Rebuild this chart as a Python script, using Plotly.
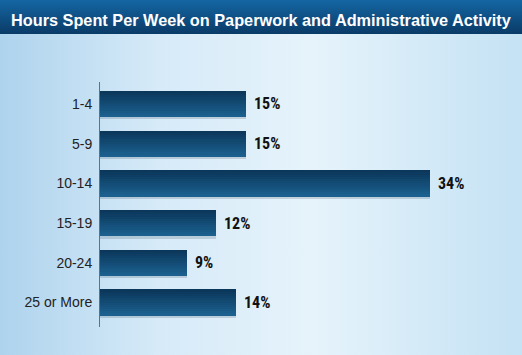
import base64
import plotly.graph_objects as go

# ---- data ----
categories = ["1-4", "5-9", "10-14", "15-19", "20-24", "25 or More"]
percent_values = [15, 15, 34, 12, 9, 14]
value_labels = ["15%", "15%", "34%", "12%", "9%", "14%"]
chart_title = "Hours Spent Per Week on Paperwork and Administrative Activity"

W, H = 522, 355
ML, MR, MT, MB = 100, 22, 82, 28

# ---- background (gradient panel + title bar) as SVG ----
svg = f'''<svg xmlns="http://www.w3.org/2000/svg" width="{W}" height="{H}" viewBox="0 0 {W} {H}" preserveAspectRatio="none">
<defs>
<linearGradient id="bg" x1="0" y1="0" x2="1" y2="0">
<stop offset="0" stop-color="#aed3ed"/>
<stop offset="0.3" stop-color="#d6eaf8"/>
<stop offset="0.6" stop-color="#e6f3fb"/>
<stop offset="1" stop-color="#c4e2f4"/>
</linearGradient>
<linearGradient id="tb" x1="0" y1="0" x2="0" y2="1">
<stop offset="0" stop-color="#1466a3"/>
<stop offset="1" stop-color="#0a3b67"/>
</linearGradient>
</defs>
<rect x="0" y="0" width="{W}" height="{H}" fill="url(#bg)"/>
<rect x="0" y="0" width="{W}" height="34" fill="url(#tb)"/>
</svg>'''
svg_uri = "data:image/svg+xml;base64," + base64.b64encode(svg.encode()).decode()

pw = W - ML - MR
ph = H - MT - MB

fig = go.Figure()

# ---- bars with vertical gradient (layered strips) ----
bar_w = 0.66
n_strips = 12
top_rgb = (11, 55, 90)
bot_rgb = (27, 96, 143)
step = bar_w / n_strips

# subtle shadow
fig.add_trace(go.Bar(
    y=categories, x=percent_values, orientation="h",
    width=bar_w, offset=-bar_w / 2 + 0.06,
    marker=dict(color="rgba(40,60,80,0.18)", line=dict(width=0)),
    hoverinfo="skip", showlegend=False,
))
for i in range(n_strips):
    t = i / (n_strips - 1)
    c = tuple(round(top_rgb[k] + (bot_rgb[k] - top_rgb[k]) * t) for k in range(3))
    off = -bar_w / 2 + i * step
    fig.add_trace(go.Bar(
        y=categories, x=percent_values, orientation="h",
        width=bar_w - i * step, offset=off,
        marker=dict(color=f"rgb{c}", line=dict(width=0)),
        hoverinfo="skip", showlegend=False,
    ))

# ---- value labels ----
for cat, v, lab in zip(categories, percent_values, value_labels):
    fig.add_annotation(
        x=v, y=cat, text=lab, xanchor="left", yanchor="middle",
        xshift=6, showarrow=False,
        font=dict(family="Liberation Sans Narrow, Arial Narrow, Roboto Condensed, sans-serif",
                  size=16, color="#111111", weight="bold"),
    )

# ---- title ----
fig.add_annotation(
    xref="paper", yref="paper",
    x=(W / 2 - ML) / pw, y=1 + (MT - 19.5) / ph,
    text=f"<b>{chart_title}</b>", showarrow=False,
    xanchor="center", yanchor="middle",
    font=dict(family="Liberation Sans, Arial, sans-serif", size=16.3, color="white"),
)

fig.update_layout(
    width=W, height=H,
    margin=dict(l=ML, r=MR, t=MT, b=MB, pad=0),
    paper_bgcolor="#dbeef9", plot_bgcolor="rgba(0,0,0,0)",
    barmode="overlay", bargap=0,
    images=[dict(source=svg_uri, xref="paper", yref="paper",
                 x=-ML / pw, y=1 + MT / ph, sizex=W / pw, sizey=H / ph,
                 xanchor="left", yanchor="top", sizing="stretch", layer="below")],
    xaxis=dict(range=[0, pw / 9.7], visible=False, fixedrange=True),
    yaxis=dict(
        type="category", categoryorder="array", categoryarray=categories,
        range=[5.617, -0.554], showline=True, linecolor="#6b6f73", linewidth=1,
        showgrid=False, zeroline=False, ticks="", ticklabelstandoff=4,
        fixedrange=True,
        tickfont=dict(family="Liberation Sans, Arial, sans-serif", size=14, color="#222222"),
    ),
    showlegend=False,
)

fig.write_html(
    "out.html",
    config={"displayModeBar": False, "staticPlot": True},
    post_script="document.body.style.margin='0';document.body.style.overflow='hidden';",
)
